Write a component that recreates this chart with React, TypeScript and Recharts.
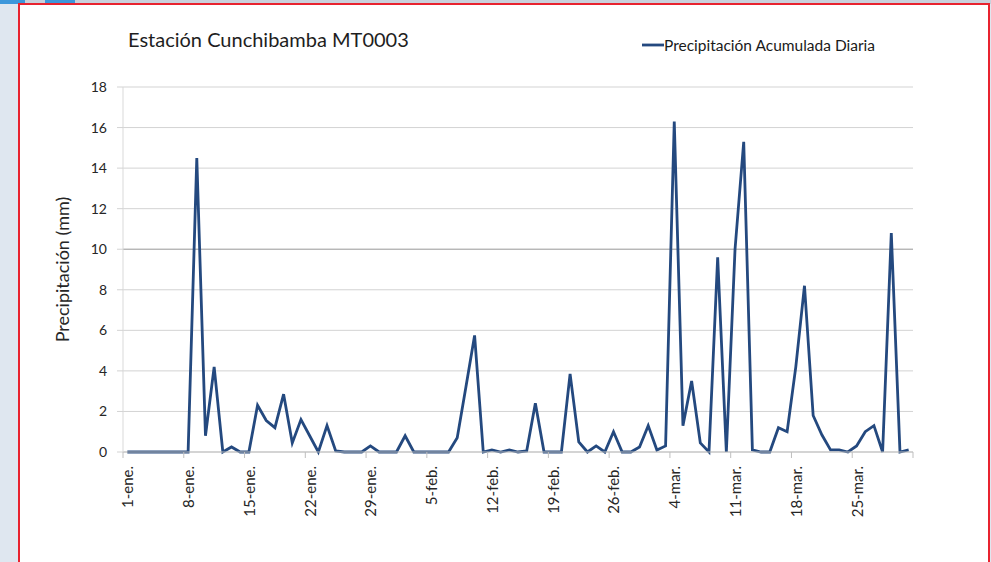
import React from 'react';
import { LineChart, Line, XAxis, YAxis, CartesianGrid, ReferenceLine, Legend } from 'recharts';

// meses del periodo (2016, febrero bisiesto)
const MONTHS: [string, number][] = [['ene.', 31], ['feb.', 29], ['mar.', 31]];

const DAYS: string[] = [];
MONTHS.forEach(([m, n]) => {
    for (let d = 1; d <= n; d++) DAYS.push(`${d}-${m}`);
});

// precipitacion diaria (mm)
const RAIN = [
    0, 0, 0, 0, 0, 0, 0, 0, 14.5, 0.8,
    4.2, 0, 0.25, 0, 0, 2.3, 1.55, 1.2, 2.85, 0.45,
    1.6, 0.8, 0, 1.3, 0.05, 0, 0, 0, 0.3, 0,
    0, 0, 0.8, 0, 0, 0, 0, 0, 0.7, 3.2,
    5.75, 0, 0.1, 0, 0.1, 0, 0.05, 2.4, 0, 0,
    0, 3.85, 0.5, 0, 0.3, 0, 1.0, 0, 0, 0.25,
    1.3, 0.1, 0.3, 16.3, 1.3, 3.5, 0.45, 0, 9.6, 0,
    10.0, 15.3, 0.1, 0, 0, 1.2, 1.0, 4.2, 8.2, 1.8,
    0.85, 0.1, 0.1, 0, 0.3, 1.0, 1.3, 0, 10.8, 0,
    0.1,
];

const Y_TICKS = [0, 2, 4, 6, 8, 10, 12, 14, 16, 18];

const data = DAYS.map((day, i) => ({ day, value: RAIN[i] }));

const FONT = 'Lato, "Open Sans", sans-serif';
const LINE_COLOR = '#24497f';
const PLOT_W = 790;
const STEP = PLOT_W / DAYS.length;

const DayTick = (props: any) => {
    const { x, y, payload, index } = props;
    const last = index === Math.floor((DAYS.length - 1) / 7);
    return (
        <g>
            <line x1={x - STEP / 2} x2={x - STEP / 2} y1={y - 14} y2={y - 8} stroke="#bfbfbf" />
            {last && (
                <line x1={x + STEP * 6.5} x2={x + STEP * 6.5} y1={y - 14} y2={y - 8} stroke="#bfbfbf" />
            )}
            <text
                transform={`translate(${x},${y}) rotate(-90)`}
                textAnchor="end"
                dy="0.4em"
                fontSize={15}
                fontFamily={FONT}
                fill="#262626"
            >
                {payload.value}
            </text>
        </g>
    );
};

const YLabel = (props: any) => {
    const { viewBox } = props;
    const cx = viewBox.x;
    const cy = viewBox.y + viewBox.height / 2;
    return (
        <text
            transform={`translate(${cx},${cy}) rotate(-90)`}
            textAnchor="middle"
            dy="0.35em"
            fontSize={18}
            fontFamily={FONT}
            fill="#262626"
        >
            Precipitación (mm)
        </text>
    );
};

const LegendContent = (props: any) => {
    const { payload } = props;
    return (
        <div style={{ display: 'flex', alignItems: 'center', fontFamily: FONT, fontSize: 15.5, color: '#1a1a1a', whiteSpace: 'nowrap' }}>
            {payload.map((p: any) => (
                <React.Fragment key={p.value}>
                    <svg width={22} height={6}>
                        <line x1={0} x2={22} y1={3} y2={3} stroke={p.color} strokeWidth={2.8} />
                    </svg>
                    <span>{p.value}</span>
                </React.Fragment>
            ))}
        </div>
    );
};

export default function App() {
    return (
        <div style={{ position: 'absolute', left: 0, top: 0, width: 991, height: 562, overflow: 'hidden', background: '#dfe7f0' }}>
            {/* franja superior */}
            <div style={{ position: 'absolute', left: 0, top: 0, width: 991, height: 4, background: '#c9d1dc' }} />
            <div style={{ position: 'absolute', left: 0, top: 0, width: 25, height: 4, background: '#3d97db' }} />
            <div style={{ position: 'absolute', left: 45, top: 0, width: 30, height: 4, background: '#3d97db' }} />
            {/* marco rojo */}
            <div
                style={{
                    position: 'absolute',
                    left: 18,
                    top: 3,
                    width: 968,
                    height: 580,
                    border: '2px solid #e8232f',
                    background: '#ffffff',
                }}
            />
            <div
                style={{
                    position: 'absolute',
                    left: 128,
                    top: 27,
                    fontFamily: FONT,
                    fontSize: 20,
                    color: '#1e1e1e',
                    whiteSpace: 'nowrap',
                }}
            >
                Estación Cunchibamba MT0003
            </div>
            <div style={{ position: 'absolute', left: 0, top: 0 }}>
                <LineChart
                    width={991}
                    height={562}
                    data={data}
                    margin={{ top: 87, right: 78, bottom: 50, left: 63 }}
                >
                    <CartesianGrid horizontal vertical={false} stroke="#d3d3d3" />
                    <ReferenceLine y={10} stroke="#a8a8a8" />
                    <XAxis
                        dataKey="day"
                        interval={6}
                        height={60}
                        tickSize={6}
                        tickMargin={8}
                        tickLine={false}
                        axisLine={{ stroke: '#bfbfbf' }}
                        padding={{ left: STEP / 2, right: STEP / 2 }}
                        tick={<DayTick />}
                    />
                    <YAxis
                        width={60}
                        domain={[0, 18]}
                        ticks={Y_TICKS}
                        tickSize={6}
                        tickMargin={10}
                        tickLine={{ stroke: '#d3d3d3' }}
                        axisLine={{ stroke: '#d9d9d9' }}
                        tick={{ fontSize: 14, fontFamily: FONT, fill: '#262626' }}
                        label={<YLabel />}
                    />
                    <Legend
                        layout="horizontal"
                        verticalAlign="middle"
                        align="center"
                        content={<LegendContent />}
                        wrapperStyle={{ position: 'absolute', left: 642, top: 36, width: 280, height: 20 }}
                    />
                    <Line
                        type="linear"
                        dataKey="value"
                        name="Precipitación Acumulada Diaria"
                        stroke={LINE_COLOR}
                        strokeWidth={2.8}
                        dot={false}
                        activeDot={false}
                        isAnimationActive={false}
                    />
                </LineChart>
            </div>
        </div>
    );
}
